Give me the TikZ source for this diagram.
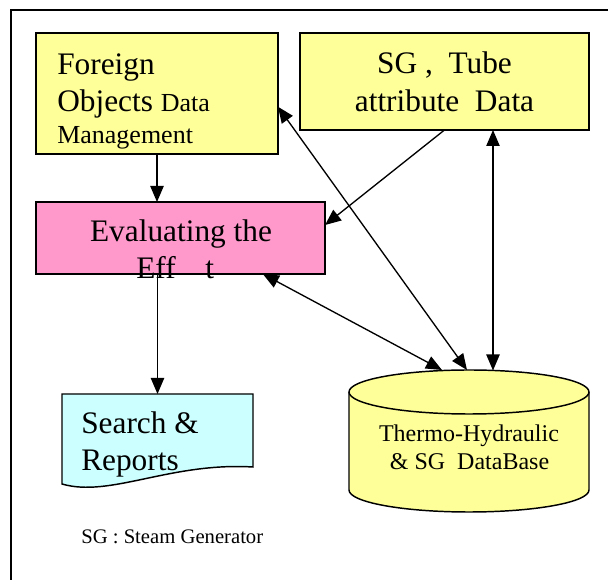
\documentclass[tikz,border=0pt]{standalone}
\usepackage{fontspec}
\setmainfont{Liberation Serif}
\usetikzlibrary{arrows.meta,calc}
\definecolor{pyellow}{RGB}{255,255,153}
\definecolor{ppink}{RGB}{255,153,204}
\definecolor{pcyan}{RGB}{204,255,255}
\tikzset{
  box/.style={draw, line width=1.1pt, inner sep=0pt, outer sep=0pt},
  tip/.tip={Triangle[length=12pt,width=10pt]},
  conn/.style={line width=1pt, -tip},
  bconn/.style={line width=1pt, tip-tip},
  bigtxt/.style={font=\fontsize{23.5}{28}\selectfont, inner sep=0pt, anchor=base west},
  bigc/.style={font=\fontsize{23.5}{28}\selectfont, inner sep=0pt, anchor=base},
  midtxt/.style={font=\fontsize{19.5}{23}\selectfont, inner sep=0pt, anchor=base west},
  dbtxt/.style={font=\fontsize{18}{22}\selectfont, inner sep=0pt, anchor=base},
  notetxt/.style={font=\fontsize{15.5}{19}\selectfont, inner sep=0pt, anchor=base west}
}
\begin{document}
\begin{tikzpicture}[x=0.75pt,y=-0.75pt]
\useasboundingbox (0,0) rectangle (608,580);
% frame
\draw[line width=1.2pt] (11,580) -- (11,10) -- (608,10);

% boxes
\node[box, fill=pyellow, minimum width=181.5pt, minimum height=90.75pt] (fo) at (157,93.5) {};
\node[box, fill=pyellow, minimum width=216.75pt, minimum height=72.75pt] (sg) at (444.5,81.5) {};
\node[box, fill=ppink, minimum width=216.75pt, minimum height=54pt] (ev) at (180.5,238) {};

% document shape (Search & Reports)
\node[inner sep=0pt, outer sep=0pt, minimum width=143.25pt, minimum height=69pt] (search) at (157.5,440) {};
\draw[box, fill=pcyan] (62,394) -- (253,394) -- (253,467)
  .. controls (170,462) and (110,498) .. (62,484) -- cycle;

% cylinder (database)
\node[inner sep=0pt, outer sep=0pt, minimum width=180pt, minimum height=107.25pt] (db) at (469,441) {};
\draw[box, fill=pyellow] (349,392) -- (349,490)
  .. controls (349,502.15) and (402.7,512) .. (469,512)
  .. controls (535.3,512) and (589,502.15) .. (589,490)
  -- (589,392)
  .. controls (589,379.85) and (535.3,370) .. (469,370)
  .. controls (402.7,370) and (349,379.85) .. (349,392) -- cycle;
\draw[line width=1.1pt] (349,392)
  .. controls (349,404.15) and (402.7,414) .. (469,414)
  .. controls (535.3,414) and (589,404.15) .. (589,392);
\coordinate (dbA) at (442,370);
\coordinate (dbB) at (467,370);
\coordinate (dbC) at (493,370.5);

% texts
\node[bigtxt] at (57,75) {Foreign};
\node[bigtxt] at (57,112) {Objects {\fontsize{19.5}{23}\selectfont Data}};
\node[midtxt] at (57,144) {Management};
\node[bigc] at (444.5,74) {SG ,\ \ Tube};
\node[bigc] at (444.5,112) {attribute\ \ Data};
\node[bigc] at (181,242) {Evaluating the};
\node[bigtxt] at (136,279) {Eff};
\node[bigtxt] at (205,279) {t};
\node[bigtxt] at (81,434) {Search \&};
\node[bigtxt] at (81,471) {Reports};
\node[dbtxt] at (469,442) {Thermo-Hydraulic};
\node[dbtxt] at (469.5,470) {\& SG\ \ DataBase};
\node[notetxt] at (81,544) {SG : Steam Generator};

% connectors
\draw[conn] (fo.south) -- (fo.south |- ev.north);
\draw[conn] (sg.south) -- ($(ev.north east)!0.32!(ev.south east)$);
\draw[bconn] ($(fo.north east)!0.61!(fo.south east)$) -- (dbB);
\draw[bconn] (dbC |- sg.south) -- (dbC);
\draw[bconn] ($(ev.south west)!0.785!(ev.south east)$) -- (dbA);
\draw[conn] (search.north |- ev.south) -- (search.north);
\end{tikzpicture}
\end{document}
